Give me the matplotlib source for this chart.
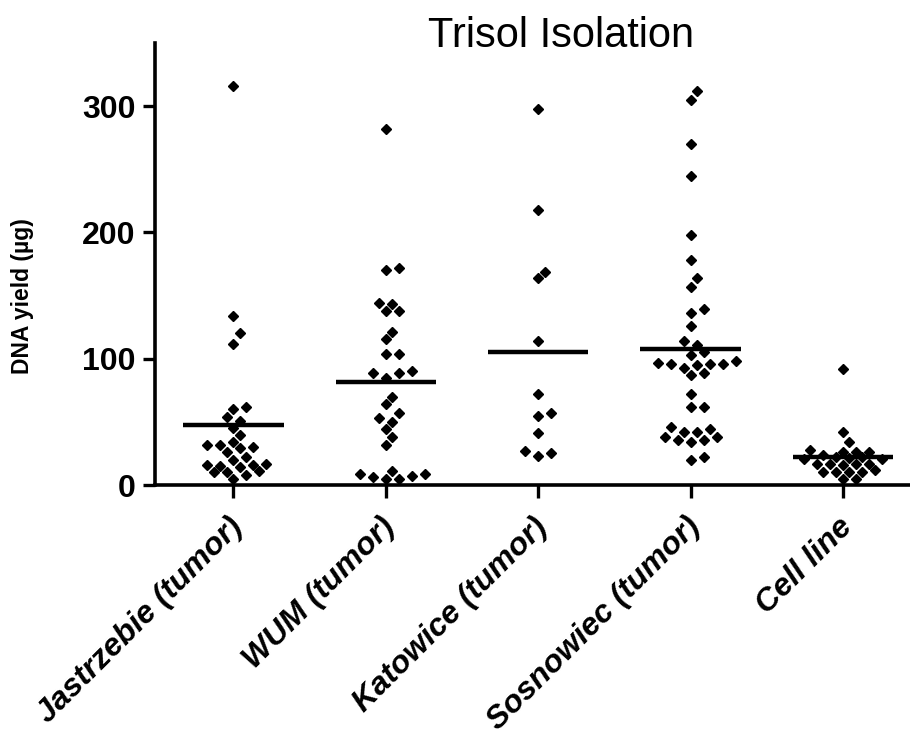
import matplotlib
matplotlib.use("Agg")
import matplotlib.pyplot as plt
import matplotlib.transforms as mtransforms
import numpy as np

plt.rcParams['font.family'] = ['Liberation Sans', 'DejaVu Sans']

# DNA yield per sample (ug)
categories = ["Jastrzebie (tumor)", "WUM (tumor)", "Katowice (tumor)",
              "Sosnowiec (tumor)", "Cell line"]
jastrzebie = [316, 134, 120, 112, 62, 60, 54, 51, 45, 40, 32, 34, 29, 30,
              32, 26, 20, 22, 15, 17, 16, 14, 16, 11, 10, 8, 10, 4.5]
wum = [282, 170, 172, 144, 138, 138, 143, 121, 116, 104, 104, 89, 90, 85,
       89, 70, 64, 57, 53, 50, 44, 38, 32, 6, 11, 7, 8.5, 4.5, 8.7, 5]
katowice = [298, 218, 164, 169, 114, 72, 55, 57, 41, 23, 27, 25]
sosnowiec = [312, 305, 270, 245, 198, 178, 164, 157, 136, 139, 126, 114,
             111, 103, 105, 98, 95, 96, 96, 96, 97, 93, 89, 87, 72, 62, 62,
             42, 46, 36, 38, 44, 34, 38, 36, 42, 20, 22]
cell_line = [92, 42, 34, 27.5, 22, 24, 17, 21, 12, 4.5, 26.5, 17, 10, 21.5,
             17, 10, 26.5, 17, 10, 26.5, 16, 4.5, 10.5, 21, 22]
groups = [jastrzebie, wum, katowice, sosnowiec, cell_line]
yticks = [0, 100, 200, 300]

fig = plt.figure(figsize=(9.1, 7.35), dpi=100)
ax = fig.add_axes([0.1703, 0.3401, 0.8297, 0.6014])
xmin, xmax = -0.515, 4.44
ymin, ymax = 0, 350
ax.set_xlim(xmin, xmax)
ax.set_ylim(ymin, ymax)

# pixels per data unit, used to spread points like a beeswarm
W = 0.8297 * 910
H = 0.6014 * 735
px_x = W / (xmax - xmin)
px_y = H / (ymax - ymin)


def swarm(vals, center, step=6.5, dmin=11.8):
    # diamonds touch when |dx| + |dy| reaches dmin (pixels)
    vals = np.asarray(vals, dtype=float)
    xs = np.zeros(len(vals))
    placed = []
    cands = [0.0]
    for k in range(1, 25):
        cands += [k * step, -k * step]
    for i in np.argsort(vals):
        y = vals[i] * px_y
        for c in cands:
            if all(abs(c - qx) + abs(y - qy) >= dmin for qx, qy in placed):
                break
        placed.append((c, y))
        xs[i] = center + c / px_x
    return xs


for i, vals in enumerate(groups):
    xs = swarm(vals, i)
    ax.plot(xs, vals, 'D', color='black', markersize=5.5, linestyle='none',
            clip_on=False, zorder=3)
    m = np.mean(vals)
    ax.hlines(m, i - 0.33, i + 0.33, color='black', linewidth=3.2, zorder=4)

for s in ['top', 'right']:
    ax.spines[s].set_visible(False)
for s in ['left', 'bottom']:
    ax.spines[s].set_linewidth(2.6)

ax.set_yticks(yticks)
ax.set_yticklabels([str(t) for t in yticks], fontsize=23, fontweight='bold')
ax.set_xticks(range(len(categories)))
ax.set_xticklabels(categories, fontsize=23, fontweight='bold', style='italic',
                   rotation=45, ha='right', va='center', rotation_mode='anchor')
ax.tick_params(axis='both', length=9, width=2.4, direction='out', pad=5)
shift = mtransforms.ScaledTranslation(5 / 100, -18 / 100, fig.dpi_scale_trans)
for lab in ax.get_xticklabels():
    lab.set_transform(lab.get_transform() + shift)

fig.text(561 / 910, 1 - 47 / 735, "Trisol Isolation", fontsize=30,
         ha='center', va='baseline')
fig.text(23 / 910, 0.597, "DNA yield (µg)", rotation=90, fontsize=16.5,
         fontweight='bold', ha='center', va='center')

fig.savefig("out.png", dpi=100)
